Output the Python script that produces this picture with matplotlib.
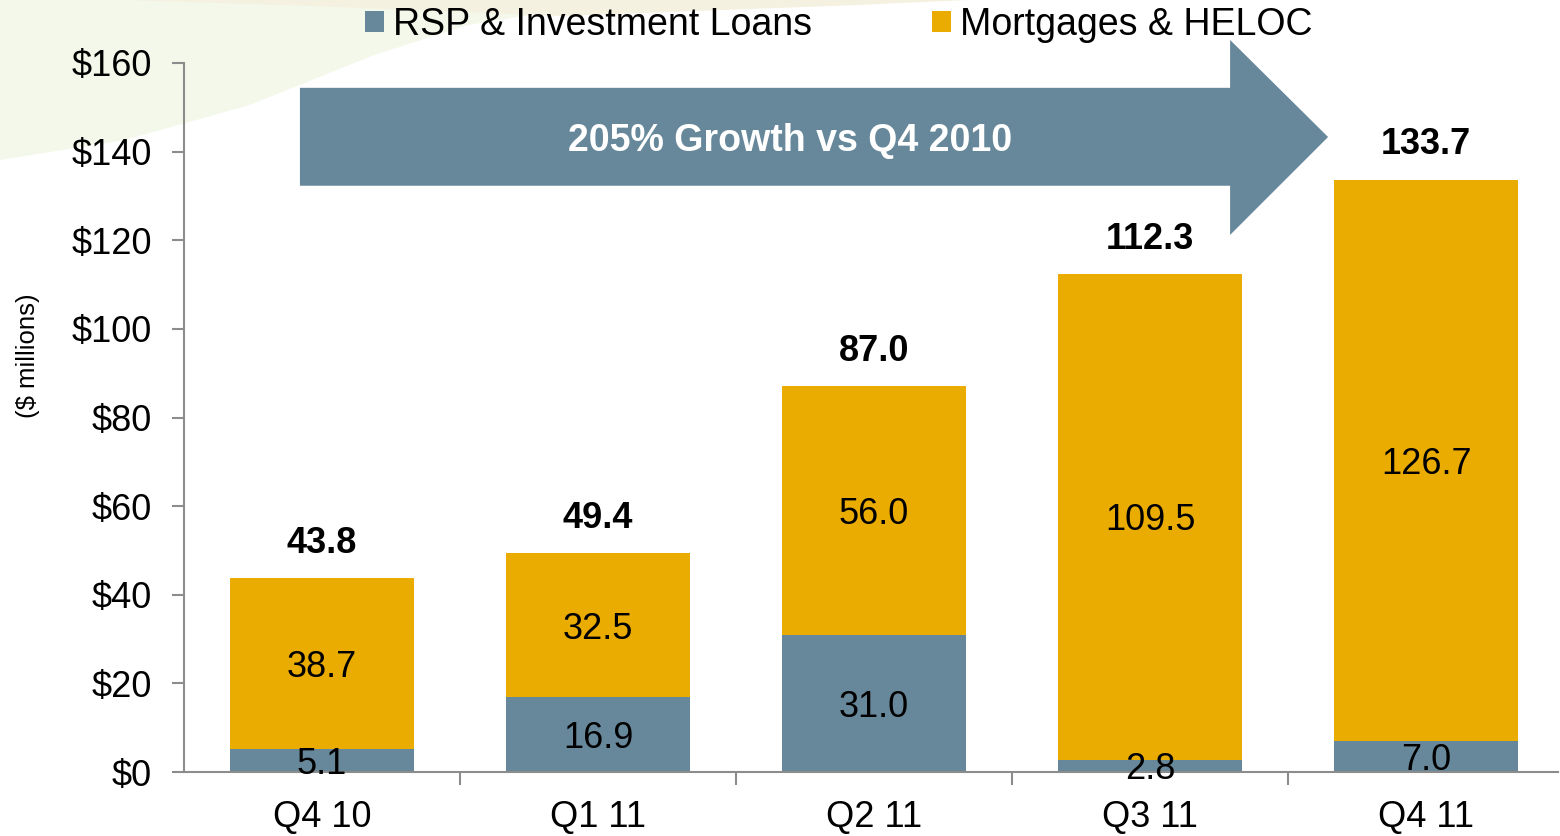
import matplotlib
matplotlib.use("Agg")
import matplotlib.pyplot as plt
import matplotlib.patches as mps
import numpy as np

plt.rcParams['font.family'] = ['Liberation Sans', 'DejaVu Sans']

# data
quarters = ['Q4 10', 'Q1 11', 'Q2 11', 'Q3 11', 'Q4 11']
rsp_loans = [5.1, 16.9, 31.0, 2.8, 7.0]
mortgages = [38.7, 32.5, 56.0, 109.5, 126.7]
totals = [43.8, 49.4, 87.0, 112.3, 133.7]
yticks = [0, 20, 40, 60, 80, 100, 120, 140, 160]

BLUE = '#67889A'
GOLD = '#EAAC00'
AXIS = '#8C8C8C'

fig = plt.figure(figsize=(15.6, 8.36), dpi=100)

# faint background swoosh in the top-left corner
green = mps.Polygon([(0, 1), (0, 1 - 160/836), (0.08, 1 - 140/836), (0.16, 1 - 105/836),
                     (0.24, 1 - 55/836), (0.30, 1 - 25/836), (0.36, 1 - 10/836), (0.40, 1)],
                    closed=True, transform=fig.transFigure, fc='#F3F8EA', ec='none', zorder=-2)
cream = mps.Polygon([(0.08, 1), (0.20, 1 - 6/836), (0.36, 1 - 16/836), (0.55, 1 - 5/836), (0.62, 1)],
                    closed=True, transform=fig.transFigure, fc='#F5F1E0', ec='none', zorder=-1)
fig.patches.extend([green, cream])

ax = fig.add_axes([184/1560, 1 - 772/836, (1558 - 184)/1560, (772 - 63)/836])
ax.patch.set_alpha(0)

x = np.arange(len(quarters))
width = 0.667
b1 = ax.bar(x, rsp_loans, width, color=BLUE, label='RSP & Investment Loans', zorder=2)
b2 = ax.bar(x, mortgages, width, bottom=rsp_loans, color=GOLD, label='Mortgages & HELOC', zorder=2)

for i in range(len(quarters)):
    ax.text(x[i], rsp_loans[i] / 2, f'{rsp_loans[i]:.1f}', ha='center', va='center_baseline',
            fontsize=26, zorder=3)
    ax.text(x[i], rsp_loans[i] + mortgages[i] / 2, f'{mortgages[i]:.1f}', ha='center',
            va='center_baseline', fontsize=26, zorder=3)
    ax.annotate(f'{totals[i]:.1f}', (x[i], totals[i]), xytext=(0, 28),
                textcoords='offset points', ha='center', va='center_baseline',
                fontsize=26, fontweight='bold', zorder=3)

ax.set_xlim(-0.5, 4.478)
ax.set_ylim(0, 160)
ax.set_yticks(yticks)
ax.set_yticklabels([f'${v}' for v in yticks])
ax.set_xticks(x)
ax.set_xticklabels(quarters)
ax.set_xticks(x[:-1] + 0.5, minor=True)
ax.tick_params(axis='x', which='major', length=0, pad=20, labelsize=26)
ax.tick_params(axis='x', which='minor', length=9, width=1.5, color=AXIS, direction='out')
ax.tick_params(axis='y', length=9, width=1.5, color=AXIS, pad=14, labelsize=26)

for s in ['top', 'right']:
    ax.spines[s].set_visible(False)
for s in ['left', 'bottom']:
    ax.spines[s].set_color(AXIS)
    ax.spines[s].set_linewidth(1.5)

fig.text(28/1560, 1 - 356/836, '($ millions)', rotation=90, ha='center', va='center',
         fontsize=18.5)

# growth arrow (data coords)
arrow = mps.Polygon([(-0.08, 154.4), (3.29, 154.4), (3.29, 165.2), (3.645, 143.3),
                     (3.29, 121.2), (3.29, 132.3), (-0.08, 132.3)],
                    closed=True, fc=BLUE, ec='none', clip_on=False, zorder=4)
ax.add_patch(arrow)
ax.text(1.696, 143.3, '205% Growth vs Q4 2010', ha='center', va='center_baseline', color='white',
        fontsize=27, fontweight='bold', zorder=5)

fig.legend(handles=[b1, b2], loc='center left', bbox_to_anchor=(365/1560, 1 - 25/836),
           ncol=2, frameon=False, fontsize=27, handlelength=0.5, handleheight=0.5,
           handletextpad=0.25, columnspacing=3.2, borderaxespad=0, borderpad=0)

fig.savefig('out.png', dpi=100)
